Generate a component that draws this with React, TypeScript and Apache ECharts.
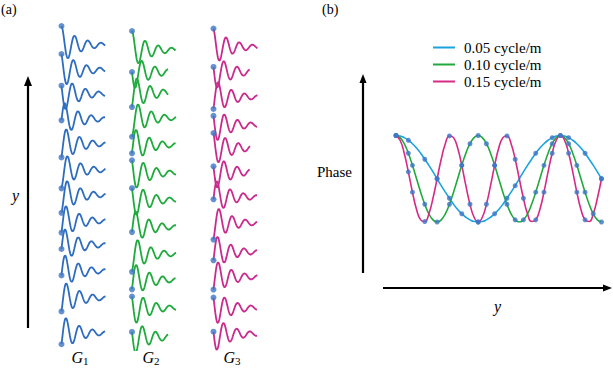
import React, { useEffect, useRef } from "react";
import * as echarts from "echarts";

// ---------- Panel (a): seismic traces ----------
const COLUMN_NAMES = ["1", "2", "3"];
// trace baseline positions (bottom = 0)
const G1_POSITIONS = [30.5, 28.0, 25.6, 23.1, 20.6, 18.0, 15.5, 12.9, 10.5, 7.9, 5.2, 1.7];
const G2_POSITIONS = [30.0, 27.8, 25.7, 23.2, 20.5, 17.7, 15.0, 12.3, 9.6, 7.0, 4.2, 1.3];
const G3_POSITIONS = [30.3, 27.8, 25.3, 22.5, 20.2, 17.8, 15.3, 12.7, 9.8, 7.3, 4.2, 1.6];
// starting phase of each trace (radians)
const G1_PHASES = [0, 0.57, 1.12, 4.64, 3.93, 3.4, 3.5, 4.05, 4.5, 4.48, 3.93, 4.08];
const G2_PHASES = [0, 1.57, 3.88, 3.3, 4.26, 0.84, 0.9, 4.44, 3.5, 4.2, 0.92, 1.3];
const G3_PHASES = [0.25, 1.3, 4.03, 1.07, 0.66, 1.27, 4.59, 3.65, 4.26, 3.99, 0.99, 1.45];
// trace durations (normalized)
const G1_LENGTHS = [1, 1, 1, 1, 1, 1, 1, 1, 1, 1, 1, 1];
const G2_LENGTHS = [1, 0.83, 0.83, 1, 1, 1, 1, 1, 1, 1, 1, 0.83];
const G3_LENGTHS = [1, 0.83, 1, 1, 0.83, 0.83, 1, 1, 1, 1, 1, 1];
const WAVE_AMP = 1.9;
const WAVE_PERIOD = 0.3;
const WAVE_DECAY = 0.42;

// ---------- Panel (b): phase curves ----------
const LEGEND_NAMES = ["0.05 cycle/m", "0.10 cycle/m", "0.15 cycle/m"];
const PHASE_Y = Array.from({ length: 51 }, (_, i) => i * 0.5);
const PHASE_005 = [1, .99, .95, .89, .81, .71, .59, .45, .31, .16, 0, -.16, -.31, -.45, -.59, -.71, -.81, -.89, -.95, -.99, -1, -.99, -.95, -.89, -.81, -.71, -.59, -.45, -.31, -.16, 0, .16, .31, .45, .59, .71, .81, .89, .95, .99, 1, .99, .95, .89, .81, .71, .59, .45, .31, .16, 0];
const PHASE_010 = [1, .95, .81, .59, .31, 0, -.31, -.59, -.81, -.95, -1, -.95, -.81, -.59, -.31, 0, .31, .59, .81, .95, 1, .95, .81, .59, .31, 0, -.31, -.59, -.81, -.95, -1, -.95, -.81, -.59, -.31, 0, .31, .59, .81, .95, 1, .95, .81, .59, .31, 0, -.31, -.59, -.81, -.95, -1];
const PHASE_015 = [1, .89, .59, .16, -.31, -.71, -.95, -.99, -.81, -.45, 0, .45, .81, .99, .95, .71, .31, -.16, -.59, -.89, -1, -.89, -.59, -.16, .31, .71, .95, .99, .81, .45, 0, -.45, -.81, -.99, -.95, -.71, -.31, .16, .59, .89, 1, .89, .59, .16, -.31, -.71, -.95, -.99, -.81, -.45, 0];
const MARK_005 = [[0, 1], [1.5, .89], [3.5, .45], [5, 0], [6.5, -.45], [8, -.81], [10, -1], [12, -.81], [13.5, -.45], [14.5, -.16], [17, .59], [19, .95], [21, .95], [23, .59], [25, 0]];
const MARK_010 = [[0, 1], [1.5, .59], [2, .31], [3.5, -.59], [5, -1], [6.5, -.59], [8, .31], [9, .81], [10, 1], [11, .81], [12, .31], [13.5, -.59], [14.5, -.95], [15.5, -.95], [17, -.31], [18, .31], [19, .81], [20, 1], [21, .81], [22, .31], [23, -.31], [24, -.81], [25, -1]];
const MARK_015 = [[0, 1], [1.5, .16], [2, -.31], [3.5, -.99], [5, 0], [6.5, .99], [8, .31], [9, -.59], [10, -1], [11, -.59], [12, .31], [13.5, .99], [14.5, .45], [15.5, -.45], [17, -.95], [18, -.31], [19, .59], [20, 1], [21, .59], [22, -.31], [23, -.95], [25, 0]];

const SERIF = "'Liberation Serif', 'DejaVu Serif', serif";
const TRACE_COLORS = ["#2d6cbf", "#1eaa3c", "#c92a8c"];
const CURVE_COLORS = ["#1ba3e0", "#1eaa3c", "#d62a86"];
const DOT_COLOR = "#3d77c6";

function traceData(pos: number, phase: number, len: number) {
  const pts: number[][] = [];
  for (let i = 0; i <= 100; i++) {
    const t = (i / 100) * len;
    pts.push([t, pos + WAVE_AMP * Math.exp(-t / WAVE_DECAY) * Math.cos((2 * Math.PI * t) / WAVE_PERIOD + phase)]);
  }
  return pts;
}

export default function App() {
  const ref = useRef<HTMLDivElement>(null);
  useEffect(() => {
    if (!ref.current) return;
    const chart = echarts.init(ref.current, null, { renderer: "svg" });
    const cols = [
      { pos: G1_POSITIONS, ph: G1_PHASES, len: G1_LENGTHS, left: 61.5 },
      { pos: G2_POSITIONS, ph: G2_PHASES, len: G2_LENGTHS, left: 132 },
      { pos: G3_POSITIONS, ph: G3_PHASES, len: G3_LENGTHS, left: 213.5 },
    ];
    const grids: any[] = [];
    const xAxes: any[] = [];
    const yAxes: any[] = [];
    const series: any[] = [];
    cols.forEach((c, ci) => {
      grids.push({ left: c.left, top: 20, width: 44, height: 330 });
      xAxes.push({ type: "value", gridIndex: ci, min: 0, max: 1, show: false });
      yAxes.push({ type: "value", gridIndex: ci, min: 0, max: 33, show: false });
      c.pos.forEach((p, i) => {
        series.push({
          type: "line", xAxisIndex: ci, yAxisIndex: ci, showSymbol: false, silent: true,
          data: traceData(p, c.ph[i], c.len[i]),
          lineStyle: { color: TRACE_COLORS[ci], width: 1.8 },
        });
      });
      series.push({
        type: "scatter", xAxisIndex: ci, yAxisIndex: ci, symbolSize: 6, z: 5,
        itemStyle: { color: DOT_COLOR },
        data: c.pos.map((p, i) => [0, p + WAVE_AMP * Math.cos(c.ph[i])]),
      });
    });
    // panel (b)
    grids.push({ left: 396, top: 135.5, width: 205.5, height: 86.5 });
    xAxes.push({ type: "value", gridIndex: 3, min: 0, max: 25, show: false });
    yAxes.push({ type: "value", gridIndex: 3, min: -1, max: 1, show: false });
    const curves = [PHASE_005, PHASE_010, PHASE_015];
    const marks = [MARK_005, MARK_010, MARK_015];
    curves.forEach((vals, k) => {
      series.push({
        name: LEGEND_NAMES[k], type: "line", xAxisIndex: 3, yAxisIndex: 3, smooth: true, showSymbol: false,
        color: CURVE_COLORS[k],
        data: PHASE_Y.map((y, i) => [y, vals[i]]),
        lineStyle: { color: CURVE_COLORS[k], width: 1.6 },
      });
    });
    marks.forEach((m) => {
      series.push({
        type: "scatter", xAxisIndex: 3, yAxisIndex: 3, symbolSize: 5, z: 5,
        itemStyle: { color: DOT_COLOR }, data: m,
      });
    });

    const txt = (x: number, y: number, text: string, extra: any = {}) => ({
      type: "text", x, y,
      style: { text, fontFamily: SERIF, fontSize: 14, fill: "#000", align: "left", verticalAlign: "middle", ...extra },
    });
    const gLabel = (cx: number, n: string) => ({
      type: "text", x: cx, y: 357,
      style: {
        text: `{g|G}{s|${n}}`, align: "center", verticalAlign: "middle",
        rich: {
          g: { fontFamily: SERIF, fontSize: 16, fontStyle: "italic", fill: "#000" },
          s: { fontFamily: SERIF, fontSize: 11, fill: "#000", padding: [7, 0, 0, 0] },
        },
      },
    });
    const graphic: any[] = [
      txt(1, 9, "(a)"),
      txt(322, 9, "(b)"),
      txt(12, 195, "y", { fontStyle: "italic", fontSize: 16 }),
      txt(317, 172, "Phase", { fontSize: 15 }),
      txt(494, 306, "y", { fontStyle: "italic", fontSize: 16 }),
      gLabel(80, COLUMN_NAMES[0]),
      gLabel(151, COLUMN_NAMES[1]),
      gLabel(232, COLUMN_NAMES[2]),
      { type: "line", shape: { x1: 28, y1: 328, x2: 28, y2: 84 }, style: { stroke: "#000", lineWidth: 2.2 } },
      { type: "polygon", shape: { points: [[24, 86], [28, 76], [32, 86]] }, style: { fill: "#000" } },
      { type: "line", shape: { x1: 363, y1: 273, x2: 363, y2: 81 }, style: { stroke: "#000", lineWidth: 2.2 } },
      { type: "polygon", shape: { points: [[359.5, 83], [363, 74], [366.5, 83]] }, style: { fill: "#000" } },
      { type: "line", shape: { x1: 383, y1: 288, x2: 604, y2: 288 }, style: { stroke: "#000", lineWidth: 2.2 } },
      { type: "polygon", shape: { points: [[603, 284.5], [612, 288], [603, 291.5]] }, style: { fill: "#000" } },
    ];

    chart.setOption({
      animation: false,
      backgroundColor: "#fff",
      grid: grids,
      xAxis: xAxes,
      yAxis: yAxes,
      legend: {
        data: LEGEND_NAMES, orient: "vertical", left: 433, top: 40, padding: 0, itemWidth: 22, itemHeight: 2, itemGap: 2,
        icon: "rect", selectedMode: false,
        textStyle: { fontFamily: SERIF, fontSize: 15, color: "#000", lineHeight: 15, padding: [0, 0, 0, 4] },
      },
      series,
      graphic,
    });
    return () => chart.dispose();
  }, []);
  return <div ref={ref} style={{ position: "fixed", left: 0, top: 0, width: 613, height: 378 }} />;
}
